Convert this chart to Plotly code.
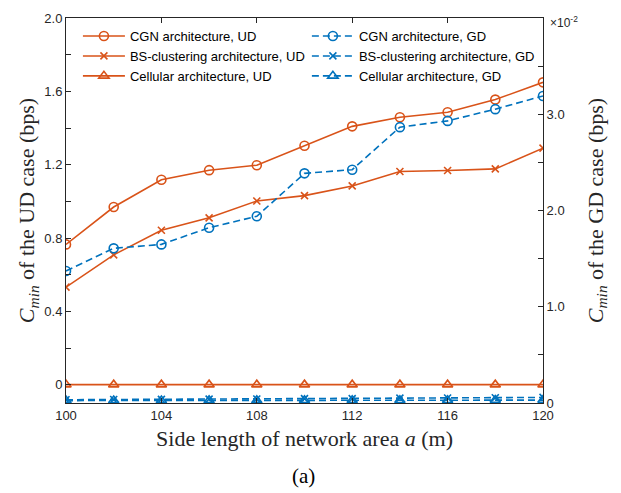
import plotly.graph_objects as go

side_length = [100, 102, 104, 106, 108, 110, 112, 114, 116, 118, 120]

ud_cgn = [0.765, 0.969, 1.118, 1.170, 1.197, 1.303, 1.409, 1.459, 1.486, 1.555, 1.649]
ud_bs = [0.532, 0.708, 0.842, 0.910, 1.002, 1.031, 1.084, 1.163, 1.168, 1.177, 1.290]
ud_cell = [0, 0, 0, 0, 0, 0, 0, 0, 0, 0, 0]

gd_cgn = [0.01372, 0.01607, 0.01648, 0.01821, 0.01940, 0.02386, 0.02424, 0.02866, 0.02931, 0.03053, 0.03190]
gd_bs = [0.00034, 0.00036, 0.00037, 0.00040, 0.00041, 0.00045, 0.00046, 0.00050, 0.00052, 0.00054, 0.00058]
gd_cell = [0.00025, 0.00026, 0.00026, 0.00027, 0.00027, 0.00028, 0.00028, 0.00029, 0.00029, 0.00030, 0.00030]

x_ticks = [100, 104, 108, 112, 116, 120]
left_ticks = [0, 0.2, 0.4, 0.6, 0.8, 1.0, 1.2, 1.4, 1.6, 1.8, 2.0]
left_labels = ["0", "", "0.4", "", "0.8", "", "1.2", "", "1.6", "", "2.0"]
right_ticks = [0, 0.005, 0.01, 0.015, 0.02, 0.025, 0.03, 0.035, 0.04]
right_labels = ["0", "", "1.0", "", "2.0", "", "3.0", "", ""]

RED = "#D95319"
BLUE = "#0072BD"
AX = "#262626"
SANS = "Liberation Sans, Arial, sans-serif"
SERIF = "Liberation Serif, Times New Roman, serif"
DASH = "7px,4px"

fig = go.Figure()

def add(y, name, color, symbol, dash, yaxis, legend, size):
    fig.add_trace(go.Scatter(
        x=side_length, y=y, name=name, mode="lines+markers",
        line=dict(color=color, width=1.6, dash=dash),
        marker=dict(symbol=symbol, size=size, color=color,
                    line=dict(color=color, width=1.6)),
        yaxis=yaxis, legend=legend,
    ))

add(ud_cgn, "CGN architecture, UD", RED, "circle-open", "solid", "y", "legend", 9)
add(ud_bs, "BS-clustering architecture, UD", RED, "x-thin", "solid", "y", "legend", 7)
add(ud_cell, "Cellular architecture, UD", RED, "triangle-up-open", "solid", "y", "legend", 9)
add(gd_cgn, "CGN architecture, GD", BLUE, "circle-open", DASH, "y2", "legend2", 9)
add(gd_bs, "BS-clustering architecture, GD", BLUE, "x-thin", DASH, "y2", "legend2", 7)
add(gd_cell, "Cellular architecture, GD", BLUE, "triangle-up-open", DASH, "y2", "legend2", 9)

fig.update_layout(
    width=621, height=493,
    margin=dict(l=66, r=78, t=11, b=90),
    paper_bgcolor="white", plot_bgcolor="white",
    font=dict(family=SANS, size=13, color=AX),
    xaxis=dict(
        range=[100, 120], tickvals=x_ticks, ticktext=[str(v) for v in x_ticks],
        ticks="inside", ticklen=5, tickcolor=AX, showline=True, linecolor=AX,
        linewidth=1, mirror="ticks", showgrid=False, zeroline=False,
        tickfont=dict(family=SANS, size=13, color=AX),
        title=dict(text="Side length of network area <i>a</i> (m)",
                   font=dict(family=SERIF, size=22, color=AX), standoff=9),
    ),
    yaxis=dict(
        range=[-0.1, 2.0], tickvals=left_ticks, ticktext=left_labels,
        ticks="inside", ticklen=5, tickcolor=AX, showline=True, linecolor=AX,
        linewidth=1, showgrid=False, zeroline=False, ticklabeloverflow="allow",
        tickfont=dict(family=SANS, size=13, color=AX),
        title=dict(text="<i>C</i><sub><i>min</i></sub> of the UD case (bps)",
                   font=dict(family=SERIF, size=22, color=AX), standoff=3),
    ),
    yaxis2=dict(
        range=[0, 0.04], tickvals=right_ticks, ticktext=right_labels,
        overlaying="y", side="right",
        ticks="inside", ticklen=5, tickcolor=AX, showline=True, linecolor=AX,
        linewidth=1, showgrid=False, zeroline=False, ticklabeloverflow="allow",
        tickfont=dict(family=SANS, size=13, color=AX),
        title=dict(text="<i>C</i><sub><i>min</i></sub> of the GD case (bps)",
                   font=dict(family=SERIF, size=22, color=AX), standoff=23),
    ),
    legend=dict(x=0.025, y=0.992, xanchor="left", yanchor="top",
                bgcolor="rgba(0,0,0,0)", borderwidth=0, itemwidth=42,
                font=dict(family=SANS, size=13, color="#000000"),
                tracegroupgap=0),
    legend2=dict(x=0.505, y=0.992, xanchor="left", yanchor="top",
                 bgcolor="rgba(0,0,0,0)", borderwidth=0, itemwidth=42,
                 font=dict(family=SANS, size=13, color="#000000"),
                 tracegroupgap=0),
    annotations=[
        dict(text="×10<sup>-2</sup>", xref="paper", yref="paper",
             x=1.01, y=0.99, xanchor="left", yanchor="middle", showarrow=False,
             font=dict(family=SANS, size=12, color=AX)),
        dict(text="(a)", xref="paper", yref="paper",
             x=0.497, y=-0.189, xanchor="center", yanchor="middle", showarrow=False,
             font=dict(family=SERIF, size=21, color="#000000")),
    ],
)

fig.write_html("out.html", config={"displayModeBar": False},
               post_script="document.body.style.margin='0';")
